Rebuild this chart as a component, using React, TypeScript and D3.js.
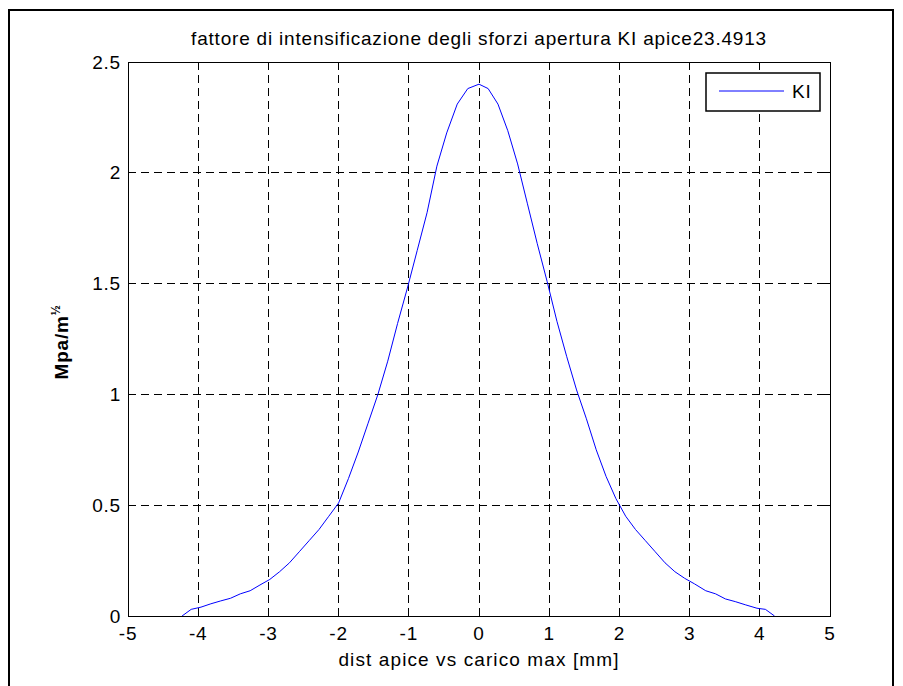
import React from 'react';
import * as d3 from 'd3';

// KI curve (dist [mm], Mpa/m^½)
const distMm = [
  -4.23, -4.1, -3.96, -3.82, -3.68, -3.54, -3.4, -3.26, -3.12, -2.98, -2.84, -2.7,
  -2.56, -2.42, -2.28, -2.14, -2.0, -1.86, -1.72, -1.58, -1.44, -1.3, -1.16, -1.02,
  -0.88, -0.74, -0.6, -0.46, -0.31, -0.16, 0, 0.13, 0.27, 0.41, 0.55, 0.69, 0.83,
  0.97, 1.11, 1.25, 1.39, 1.53, 1.67, 1.81, 1.95, 2.09, 2.23, 2.37, 2.51, 2.65,
  2.79, 2.93, 3.07, 3.23, 3.37, 3.51, 3.65, 3.8, 3.96, 4.08, 4.21,
];
const kiValues = [
  0, 0.03, 0.04, 0.055, 0.068, 0.08, 0.1, 0.114, 0.14, 0.165, 0.2, 0.24,
  0.29, 0.34, 0.39, 0.45, 0.51, 0.62, 0.74, 0.87, 1.0, 1.15, 1.32, 1.48,
  1.65, 1.82, 2.03, 2.18, 2.31, 2.38, 2.4, 2.38, 2.31, 2.19, 2.04, 1.86, 1.68,
  1.51, 1.33, 1.17, 1.02, 0.89, 0.75, 0.63, 0.53, 0.45, 0.39, 0.34, 0.29, 0.24,
  0.2, 0.17, 0.145, 0.114, 0.1, 0.077, 0.065, 0.05, 0.035, 0.03, 0,
];
const xTicks = [-5, -4, -3, -2, -1, 0, 1, 2, 3, 4, 5];
const yTicks = [0, 0.5, 1, 1.5, 2, 2.5];
const title = 'fattore di intensificazione degli sforzi apertura KI apice23.4913';
const xLabel = 'dist apice vs carico max [mm]';
const seriesName = 'KI';

const W = 903;
const H = 686;
const box = { left: 128, right: 830, top: 62, bottom: 616 };
const font = '"Liberation Sans", Arial, sans-serif';
const fs = 19;
const ls = 0.8;
const tickLen = 7;

export default function App() {
  const x = d3.scaleLinear().domain([-5, 5]).range([box.left, box.right]);
  const y = d3.scaleLinear().domain([0, 2.5]).range([box.bottom, box.top]);

  const pts: [number, number][] = distMm.map((d, i) => [d, kiValues[i]]);
  const line = d3.line<[number, number]>().x(d => x(d[0])).y(d => y(d[1]));

  return (
    <svg width={W} height={H} style={{ position: 'absolute', left: 0, top: 0, background: '#fff' }}
      fontFamily={font}>
      <rect x={9} y={10} width={884} height={700} fill="none" stroke="#000" strokeWidth={2} />
      <rect x={box.left} y={box.top} width={box.right - box.left} height={box.bottom - box.top} fill="#fff" />

      {/* grid */}
      <g stroke="#000" strokeWidth={1} strokeDasharray="8,5" shapeRendering="crispEdges">
        {xTicks.slice(1, -1).map(t => (
          <line key={'gx' + t} x1={x(t)} x2={x(t)} y1={box.top} y2={box.bottom} />
        ))}
        {yTicks.slice(1, -1).map(t => (
          <line key={'gy' + t} x1={box.left} x2={box.right} y1={y(t)} y2={y(t)} />
        ))}
      </g>

      {/* ticks */}
      <g stroke="#000" strokeWidth={1} shapeRendering="crispEdges">
        {xTicks.map(t => (
          <g key={'tx' + t}>
            <line x1={x(t)} x2={x(t)} y1={box.bottom} y2={box.bottom - tickLen} />
            <line x1={x(t)} x2={x(t)} y1={box.top} y2={box.top + tickLen} />
          </g>
        ))}
        {yTicks.map(t => (
          <g key={'ty' + t}>
            <line x1={box.left} x2={box.left + tickLen} y1={y(t)} y2={y(t)} />
            <line x1={box.right} x2={box.right - tickLen} y1={y(t)} y2={y(t)} />
          </g>
        ))}
      </g>

      <path d={line(pts) ?? ''} fill="none" stroke="#0000ff" strokeWidth={1} />

      <rect x={box.left} y={box.top} width={box.right - box.left} height={box.bottom - box.top}
        fill="none" stroke="#000" strokeWidth={1} shapeRendering="crispEdges" />

      {/* tick labels */}
      <g fontSize={fs} letterSpacing={ls} fill="#000">
        {xTicks.map(t => (
          <text key={'lx' + t} x={x(t)} y={640} textAnchor="middle">{t}</text>
        ))}
        {yTicks.map(t => (
          <text key={'ly' + t} x={box.left - 7} y={y(t)} dy="0.35em" textAnchor="end">{t}</text>
        ))}
      </g>

      <text x={(box.left + box.right) / 2} y={45} textAnchor="middle" fontSize={fs} letterSpacing={ls}>{title}</text>
      <text x={(box.left + box.right) / 2} y={666} textAnchor="middle" fontSize={fs} letterSpacing={1.1}>{xLabel}</text>
      <text transform={`translate(68,${(box.top + box.bottom) / 2 + 3}) rotate(-90)`} textAnchor="middle"
        fontSize={fs} fontWeight="bold" letterSpacing={ls}>
        Mpa/m<tspan fontSize={12} dy={-8}>½</tspan>
      </text>

      {/* legend */}
      <rect x={706} y={73} width={114} height={38} fill="#fff" stroke="#000" strokeWidth={1.5} />
      <line x1={719} x2={784} y1={91} y2={91} stroke="#0000ff" strokeWidth={1} />
      <text x={792} y={91} dy="0.35em" fontSize={fs} letterSpacing={ls}>{seriesName}</text>
    </svg>
  );
}
